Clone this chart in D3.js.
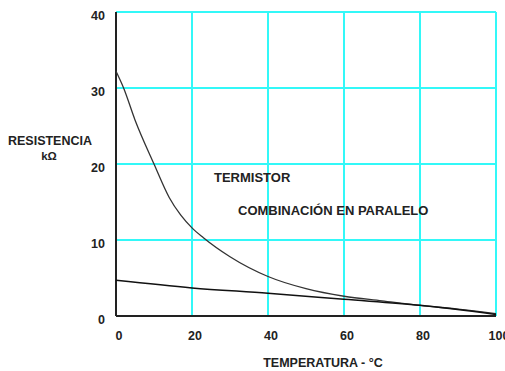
<!DOCTYPE html>
<html lang="en">
<head>
<meta charset="utf-8">
<script src="https://d3js.org/d3.v7.min.js"></script>
<style>
  body { margin: 0; background: #fff; }
  text { font-family: "Liberation Sans", Arial, sans-serif; font-weight: bold; fill: #222; }
</style>
</head>
<body>
<script>
// data
var termTemp = [0, 2, 5, 10, 14, 17, 20, 23, 30, 40, 50, 60, 70, 80, 90, 100];
var termRes  = [32.2, 30, 25.8, 20, 15.6, 13.3, 11.6, 10.3, 7.8, 5.2, 3.6, 2.6, 2.0, 1.4, 0.9, 0.3];
var parTemp  = [0, 20, 40, 60, 80, 100];
var parRes   = [4.7, 3.7, 3.0, 2.2, 1.4, 0.2];
var xTicks = [0, 20, 40, 60, 80, 100];
var yTicks = [0, 10, 20, 30, 40];

var width = 505, height = 371;
var mLeft = 116, mRight = 496, mTop = 12, mBottom = 316;

var x = d3.scaleLinear().domain([0, 100]).range([mLeft, mRight]);
var y = d3.scaleLinear().domain([0, 40]).range([mBottom, mTop]);

var svg = d3.select("body").append("svg")
  .attr("width", width)
  .attr("height", height);

// cyan grid
svg.selectAll(".vgrid")
  .data(xTicks.slice(1))
  .enter().append("line")
  .attr("x1", function(d) { return x(d); })
  .attr("x2", function(d) { return x(d); })
  .attr("y1", mTop).attr("y2", mBottom)
  .style("stroke", "#33f8f8").style("stroke-width", 2);

svg.selectAll(".hgrid")
  .data(yTicks.slice(1))
  .enter().append("line")
  .attr("x1", mLeft).attr("x2", mRight)
  .attr("y1", function(d) { return y(d); })
  .attr("y2", function(d) { return y(d); })
  .style("stroke", "#33f8f8").style("stroke-width", 2);

// axes lines
svg.append("line").attr("x1", mLeft).attr("x2", mLeft).attr("y1", mTop).attr("y2", mBottom)
  .style("stroke", "#222").style("stroke-width", 2);
svg.append("line").attr("x1", mLeft).attr("x2", mRight).attr("y1", mBottom).attr("y2", mBottom)
  .style("stroke", "#222").style("stroke-width", 2);

// tick labels
svg.selectAll(".ylab")
  .data(yTicks)
  .enter().append("text")
  .attr("x", mLeft - 11)
  .attr("y", function(d) { return y(d) + 8; })
  .attr("text-anchor", "end")
  .style("font-size", "12.5px")
  .text(function(d) { return d; });

svg.selectAll(".xlab")
  .data(xTicks)
  .enter().append("text")
  .attr("x", function(d) { return x(d) + 3; })
  .attr("y", mBottom + 24)
  .attr("text-anchor", "middle")
  .style("font-size", "12.5px")
  .text(function(d) { return d; });

// axis titles
svg.append("text").attr("x", 50).attr("y", 145).attr("text-anchor", "middle")
  .style("font-size", "12.5px").text("RESISTENCIA");
svg.append("text").attr("x", 49).attr("y", 160).attr("text-anchor", "middle")
  .style("font-size", "11.5px").text("kΩ");
svg.append("text").attr("x", 323).attr("y", 367).attr("text-anchor", "middle")
  .style("font-size", "12.5px").text("TEMPERATURA - °C");

// curve labels
svg.append("text").attr("x", 214).attr("y", 182)
  .style("font-size", "13px").text("TERMISTOR");
svg.append("text").attr("x", 238).attr("y", 215)
  .style("font-size", "13px").text("COMBINACIÓN EN PARALELO");

// curves
var line = d3.line()
  .x(function(d) { return x(d[0]); })
  .y(function(d) { return y(d[1]); })
  .curve(d3.curveMonotoneX);

svg.append("path")
  .datum(d3.zip(termTemp, termRes))
  .attr("d", line)
  .style("fill", "none").style("stroke", "#333").style("stroke-width", 1.3);

svg.append("path")
  .datum(d3.zip(parTemp, parRes))
  .attr("d", line)
  .style("fill", "none").style("stroke", "#111").style("stroke-width", 1.5);
</script>
</body>
</html>
